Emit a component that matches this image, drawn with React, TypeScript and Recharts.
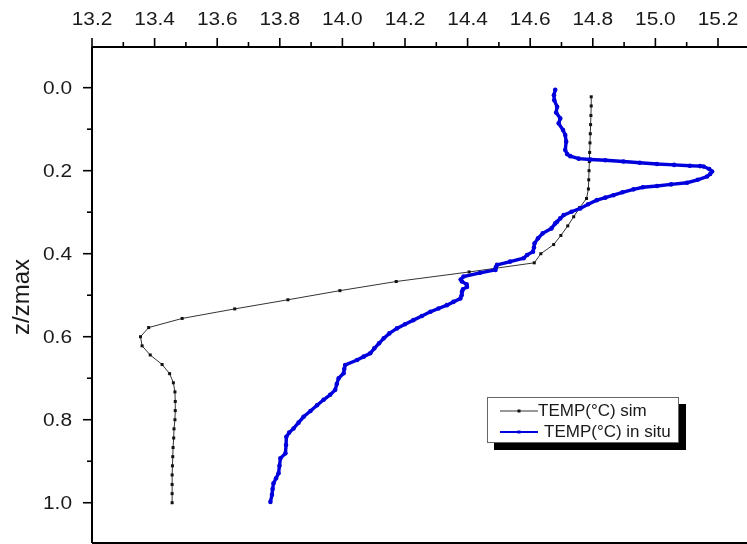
import { ScatterChart, Scatter, XAxis, YAxis, Legend } from 'recharts';

// simulated profile (z/zmax, temperature)
const SIM_Z = [
  0.022, 0.044, 0.067, 0.089, 0.111, 0.133, 0.156, 0.178, 0.2, 0.222, 0.244, 0.267,
  0.289, 0.311, 0.333, 0.356, 0.378, 0.4, 0.422, 0.444, 0.467, 0.489, 0.511, 0.533,
  0.556, 0.578, 0.6, 0.622, 0.644, 0.667, 0.689, 0.711, 0.733, 0.756, 0.778, 0.8,
  0.822, 0.844, 0.867, 0.889, 0.911, 0.933, 0.956, 0.978, 1.0,
];
const SIM_T = [
  14.795, 14.795, 14.794, 14.793, 14.792, 14.791, 14.79, 14.789, 14.788, 14.787, 14.786, 14.78,
  14.758, 14.739, 14.72, 14.698, 14.675, 14.634, 14.613, 14.405, 14.172, 13.992, 13.826, 13.656,
  13.488, 13.381, 13.355, 13.36, 13.386, 13.424, 13.448, 13.46, 13.465, 13.466, 13.466, 13.465,
  13.462, 13.461, 13.459, 13.458, 13.457, 13.456, 13.456, 13.456, 13.456,
];

// measured profile
const SITU_Z = [
  0.005, 0.018, 0.03, 0.046, 0.06, 0.074, 0.086, 0.102, 0.114, 0.13, 0.15, 0.16,
  0.165, 0.171, 0.173, 0.175, 0.178, 0.181, 0.184, 0.186, 0.188, 0.189, 0.19, 0.196,
  0.202, 0.208, 0.214, 0.222, 0.229, 0.233, 0.237, 0.24, 0.245, 0.252, 0.259, 0.265,
  0.271, 0.281, 0.291, 0.299, 0.307, 0.315, 0.323, 0.327, 0.339, 0.351, 0.363, 0.375,
  0.385, 0.395, 0.403, 0.411, 0.419, 0.427, 0.433, 0.439, 0.446, 0.455, 0.462, 0.467,
  0.474, 0.48, 0.486, 0.492, 0.5, 0.508, 0.516, 0.524, 0.532, 0.54, 0.55, 0.56,
  0.57, 0.58, 0.592, 0.604, 0.616, 0.628, 0.64, 0.648, 0.656, 0.668, 0.678, 0.688,
  0.7, 0.714, 0.728, 0.74, 0.752, 0.765, 0.779, 0.793, 0.807, 0.821, 0.831, 0.841,
  0.861, 0.881, 0.893, 0.911, 0.929, 0.941, 0.953, 0.967, 0.981, 0.998,
];
const SITU_T = [
  14.68, 14.676, 14.677, 14.686, 14.683, 14.696, 14.691, 14.705, 14.712, 14.715, 14.712, 14.718,
  14.728, 14.755, 14.792, 14.84, 14.898, 14.95, 15.005, 15.06, 15.11, 15.143, 15.154, 15.172,
  15.181, 15.175, 15.165, 15.135, 15.101, 15.05, 15.005, 14.96, 14.93, 14.895, 14.866, 14.84,
  14.813, 14.785, 14.76, 14.732, 14.707, 14.696, 14.686, 14.68, 14.668, 14.64, 14.625, 14.614,
  14.612, 14.609, 14.59, 14.579, 14.536, 14.494, 14.49, 14.489, 14.44, 14.387, 14.378, 14.382,
  14.397, 14.398, 14.385, 14.382, 14.381, 14.377, 14.355, 14.334, 14.307, 14.281, 14.254, 14.227,
  14.2, 14.174, 14.15, 14.132, 14.117, 14.102, 14.089, 14.068, 14.047, 14.009, 14.006, 14.004,
  13.988, 13.982, 13.977, 13.961, 13.94, 13.919, 13.898, 13.876, 13.86, 13.844, 13.83, 13.821,
  13.82, 13.818, 13.802, 13.799, 13.796, 13.788, 13.78, 13.777, 13.775, 13.77,
];

const X_MAJOR = [13.2, 13.4, 13.6, 13.8, 14.0, 14.2, 14.4, 14.6, 14.8, 15.0, 15.2];
const X_MINOR = [13.3, 13.5, 13.7, 13.9, 14.1, 14.3, 14.5, 14.7, 14.9, 15.1];
const Y_MAJOR = [0, 0.2, 0.4, 0.6, 0.8, 1.0];
const Y_MINOR = [0.1, 0.3, 0.5, 0.7, 0.9];
const SERIES_NAMES = ['TEMP(°C) sim', 'TEMP(°C) in situ'];

const FONT = '"Liberation Sans", Arial, sans-serif';
const BLUE = '#0000dc';
const INK = '#1a1a1a';

const simData = SIM_Z.map((z, i) => ({ t: SIM_T[i], z }));
const situData = SITU_Z.map((z, i) => ({ t: SITU_T[i], z }));

const isMajor = (v: number, list: number[]) => list.some((m) => Math.abs(m - v) < 1e-6);

// tick labels in the original are a little wider than plain Arial
function Label(props: { x: number; y: number; anchor: string; text: string }) {
  return (
    <text
      transform={`translate(${props.x} ${props.y}) scale(1.16 1)`}
      textAnchor={props.anchor}
      fontSize={18}
      fontFamily={FONT}
      fill={INK}
    >
      {props.text}
    </text>
  );
}

function TopTick(props: any) {
  const { x, y, payload } = props;
  const major = isMajor(payload.value, X_MAJOR);
  return (
    <g>
      <line x1={x} x2={x} y1={y} y2={y - (major ? 9 : 5)} stroke="#000" strokeWidth={1.6} />
      {major && <Label x={x} y={y - 22} anchor="middle" text={payload.value.toFixed(1)} />}
    </g>
  );
}

function BottomTick(props: any) {
  const { x, y, payload } = props;
  const major = isMajor(payload.value, X_MAJOR);
  return <line x1={x} x2={x} y1={y} y2={y - (major ? 10 : 5)} stroke="#000" strokeWidth={1.6} />;
}

function LeftTick(props: any) {
  const { x, y, payload } = props;
  const major = isMajor(payload.value, Y_MAJOR);
  return (
    <g>
      <line x1={x} x2={x - (major ? 9 : 5)} y1={y} y2={y} stroke="#000" strokeWidth={1.6} />
      {major && <Label x={x - 20} y={y + 6.5} anchor="end" text={payload.value.toFixed(1)} />}
    </g>
  );
}

const SimDot = (p: any) => <rect x={p.cx - 1.5} y={p.cy - 1.5} width={3} height={3} fill="#111" />;
const SituDot = (p: any) => <circle cx={p.cx} cy={p.cy} r={2.3} fill={BLUE} />;

function LegendBox() {
  const row = (i: number) => (
    <div
      key={i}
      style={{ position: 'absolute', left: 12, top: i === 0 ? 2 : 23, display: 'flex', alignItems: 'center', height: 21 }}
    >
      <svg width={38} height={10}>
        <line x1={0} x2={38} y1={5} y2={5} stroke={i === 0 ? '#333' : BLUE} strokeWidth={i === 0 ? 1 : 2} />
        <rect x={17.5} y={3.5} width={3} height={3} fill={i === 0 ? '#111' : BLUE} />
      </svg>
      <span style={{ marginLeft: i === 0 ? 0 : 6, fontSize: 17, fontFamily: FONT, color: INK, whiteSpace: 'nowrap' }}>
        {SERIES_NAMES[i]}
      </span>
    </div>
  );
  return (
    <div
      style={{
        position: 'relative',
        width: 192,
        height: 46,
        boxSizing: 'border-box',
        border: '1px solid #666',
        background: '#fff',
        boxShadow: '7px 7px 0 #000',
      }}
    >
      {row(0)}
      {row(1)}
    </div>
  );
}

export default function App() {
  return (
    <div style={{ position: 'fixed', left: 0, top: 0 }}>
      <ScatterChart width={747} height={544} margin={{ top: 0, right: 0, bottom: 0, left: 0 }}>
        <XAxis
          xAxisId="top"
          type="number"
          dataKey="t"
          orientation="top"
          domain={[13.2, 15.2927]}
          ticks={[...X_MAJOR, ...X_MINOR]}
          interval={0}
          height={47}
          tickSize={0}
          tickMargin={0}
          tickLine={false}
          tick={<TopTick />}
          axisLine={{ stroke: '#000', strokeWidth: 2 }}
        />
        <XAxis
          xAxisId="bottom"
          type="number"
          dataKey="t"
          orientation="bottom"
          domain={[13.2, 15.2927]}
          ticks={[...X_MAJOR, ...X_MINOR]}
          interval={0}
          height={1}
          tickSize={0}
          tickMargin={0}
          tickLine={false}
          tick={<BottomTick />}
          axisLine={{ stroke: '#000', strokeWidth: 2 }}
        />
        <YAxis
          type="number"
          dataKey="z"
          reversed
          domain={[-0.098, 1.097]}
          ticks={[...Y_MAJOR, ...Y_MINOR]}
          interval={0}
          width={92}
          tickSize={0}
          tickMargin={0}
          tickLine={false}
          tick={<LeftTick />}
          axisLine={{ stroke: '#000', strokeWidth: 2 }}
          label={{
            content: (p: any) => {
              const vb = p.viewBox || { x: 0, y: 47, width: 92, height: 496 };
              const cx = 20;
              const cy = vb.y + vb.height / 2 + 2;
              return (
                <text
                  x={cx}
                  y={cy}
                  transform={`rotate(-90 ${cx} ${cy})`}
                  textAnchor="middle"
                  dominantBaseline="central"
                  fontSize={24}
                  fontFamily={FONT}
                  fill={INK}
                >
                  z/zmax
                </text>
              );
            },
          }}
        />
        <Legend
          layout="horizontal"
          verticalAlign="middle"
          align="center"
          content={<LegendBox />}
          wrapperStyle={{ left: 487, top: 397, width: 'auto' }}
        />
        <Scatter
          name={SERIES_NAMES[0]}
          xAxisId="top"
          data={simData}
          line={{ stroke: '#333', strokeWidth: 1 }}
          shape={SimDot}
          isAnimationActive={false}
        />
        <Scatter
          name={SERIES_NAMES[1]}
          xAxisId="top"
          data={situData}
          line={{ stroke: BLUE, strokeWidth: 3.4 }}
          shape={SituDot}
          isAnimationActive={false}
        />
      </ScatterChart>
    </div>
  );
}
